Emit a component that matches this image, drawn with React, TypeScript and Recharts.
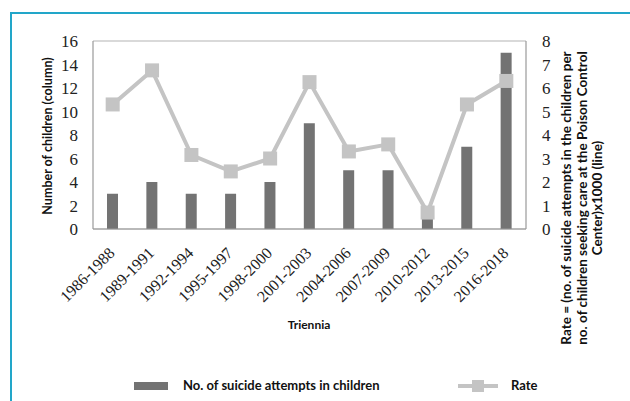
import { ComposedChart, Bar, Line, XAxis, YAxis, CartesianGrid, Legend } from 'recharts';

const triennia = ['1986-1988', '1989-1991', '1992-1994', '1995-1997', '1998-2000', '2001-2003', '2004-2006', '2007-2009', '2010-2012', '2013-2015', '2016-2018'];
const attempts = [3, 4, 3, 3, 4, 9, 5, 5, 1, 7, 15];
const rate = [5.3, 6.75, 3.15, 2.45, 3.0, 6.25, 3.3, 3.6, 0.7, 5.3, 6.3];
const leftTicks = [0, 2, 4, 6, 8, 10, 12, 14, 16];
const rightTicks = [0, 1, 2, 3, 4, 5, 6, 7, 8];

const data = triennia.map((t, i) => ({ period: t, attempts: attempts[i], rate: rate[i] }));

const BAR = '#737373';
const LINE = '#c4c4c4';
const serif = '"Liberation Serif", "Times New Roman", serif';
const sans = 'Lato, "Open Sans", sans-serif';

function SquareDot(props: any) {
  const { cx, cy } = props;
  if (cx == null || cy == null) return null;
  return <rect x={cx - 7} y={cy - 7} width={14} height={14} fill={LINE} />;
}

function XTick(props: any) {
  const { x, y, payload } = props;
  return (
    <text
      x={x + 3}
      y={y + 17}
      transform={`rotate(-45 ${x + 3} ${y + 17})`}
      textAnchor="end"
      fontFamily={serif}
      fontSize={16}
      fill="#222"
    >
      {payload.value}
    </text>
  );
}

function LeftTitle() {
  return (
    <text x={52} y={136} transform="rotate(-90 52 136)" textAnchor="middle" fontFamily={sans} fontWeight={700} fontSize={12.5} fill="#111">
      Number of children (column)
    </text>
  );
}

function RightTitle() {
  const lines = [
    'Rate = (no. of suicide attempts in the children per',
    'no. of children seeking care at the Poison Control',
    'Center)x1000  (line)',
  ];
  return (
    <text transform="translate(571 198) rotate(-90)" textAnchor="middle" fontFamily={sans} fontWeight={700} fontSize={13.5} fill="#111">
      {lines.map((l, i) => (
        <tspan key={i} x={0} y={i * 15.5}>
          {l}
        </tspan>
      ))}
    </text>
  );
}

function BottomTitle() {
  return (
    <text x={309} y={329} textAnchor="middle" fontFamily={sans} fontWeight={700} fontSize={12} fill="#111">
      Triennia
    </text>
  );
}

function ChartLegend() {
  return (
    <div style={{ position: 'relative', height: 20, fontFamily: sans, fontWeight: 700, fontSize: 13, color: '#111' }}>
      <div style={{ position: 'absolute', left: 134, top: 6, width: 34, height: 8, background: BAR }} />
      <div style={{ position: 'absolute', left: 183, top: 1 }}>No. of suicide attempts in children</div>
      <svg style={{ position: 'absolute', left: 458, top: 2 }} width={40} height={16}>
        <line x1={0} y1={8} x2={40} y2={8} stroke={LINE} strokeWidth={4} />
        <rect x={14} y={2} width={12} height={12} fill={LINE} />
      </svg>
      <div style={{ position: 'absolute', left: 511, top: 1 }}>Rate</div>
    </div>
  );
}

export default function App() {
  return (
    <div style={{ position: 'absolute', left: 0, top: 0, width: 630, height: 401, background: '#fff', overflow: 'hidden' }}>
      <div style={{ position: 'absolute', left: 10, top: 12, width: 640, height: 400, borderTop: '2px solid #22a6c9', borderLeft: '2px solid #22a6c9' }} />
      <ComposedChart
        width={630}
        height={401}
        data={data}
        margin={{ top: 41, right: 0, left: 0, bottom: 92 }}
        style={{ position: 'absolute', left: 0, top: 0 }}
      >
        <CartesianGrid horizontal vertical={false} stroke="#b3b3b3" strokeWidth={1.2} />
        <XAxis
          dataKey="period"
          height={80}
          interval={0}
          tick={<XTick />}
          tickLine={false}
          axisLine={{ stroke: '#999', strokeWidth: 1.2 }}
          label={{ content: () => <BottomTitle /> }}
        />
        <YAxis
          yAxisId="left"
          width={93}
          domain={[0, 16]}
          ticks={leftTicks}
          interval={0}
          tickSize={0}
          tickMargin={15}
          tickLine={false}
          axisLine={{ stroke: '#999', strokeWidth: 1.2 }}
          tick={{ fontFamily: serif, fontSize: 17, fill: '#222' }}
          label={{ content: () => <LeftTitle /> }}
        />
        <YAxis
          yAxisId="right"
          orientation="right"
          width={104}
          domain={[0, 8]}
          ticks={rightTicks}
          interval={0}
          tickSize={0}
          tickMargin={16}
          tickLine={false}
          axisLine={{ stroke: '#999', strokeWidth: 1.2 }}
          tick={{ fontFamily: serif, fontSize: 17, fill: '#222', textAnchor: 'start' }}
          label={{ content: () => <RightTitle /> }}
        />
        <Bar yAxisId="left" dataKey="attempts" fill={BAR} barSize={11} isAnimationActive={false} />
        <Line
          yAxisId="right"
          dataKey="rate"
          stroke={LINE}
          strokeWidth={4}
          dot={<SquareDot />}
          activeDot={false}
          isAnimationActive={false}
        />
        <Legend
          layout="horizontal"
          verticalAlign="middle"
          align="center"
          wrapperStyle={{ top: 376, left: 0, width: 630 }}
          content={() => <ChartLegend />}
        />
      </ComposedChart>
    </div>
  );
}
